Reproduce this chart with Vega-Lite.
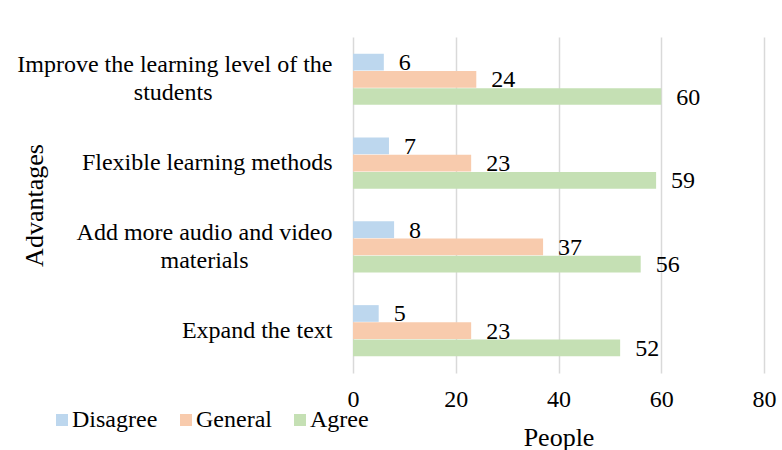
{
  "$schema": "https://vega.github.io/schema/vega-lite/v6.json",
  "autosize": "none",
  "width": 411,
  "height": 336,
  "padding": {"left": 353, "top": 37, "right": 18, "bottom": 77},
  "background": "white",
  "data": {
    "values": [
      {"advantage": "Improve the learning level of the students", "response": "Disagree", "people": 6},
      {"advantage": "Improve the learning level of the students", "response": "General", "people": 24},
      {"advantage": "Improve the learning level of the students", "response": "Agree", "people": 60},
      {"advantage": "Flexible learning methods", "response": "Disagree", "people": 7},
      {"advantage": "Flexible learning methods", "response": "General", "people": 23},
      {"advantage": "Flexible learning methods", "response": "Agree", "people": 59},
      {"advantage": "Add more audio and video materials", "response": "Disagree", "people": 8},
      {"advantage": "Add more audio and video materials", "response": "General", "people": 37},
      {"advantage": "Add more audio and video materials", "response": "Agree", "people": 56},
      {"advantage": "Expand the text", "response": "Disagree", "people": 5},
      {"advantage": "Expand the text", "response": "General", "people": 23},
      {"advantage": "Expand the text", "response": "Agree", "people": 52}
    ]
  },
  "encoding": {
    "y": {
      "field": "advantage",
      "type": "nominal",
      "sort": null,
      "scale": {"paddingInner": 0.39, "paddingOuter": 0.2},
      "axis": {
        "title": "Advantages",
        "titleFontSize": 26,
        "titleX": -311,
        "titleBaseline": "alphabetic",
        "labelFontSize": 24,
        "labelPadding": 21,
        "labelLimit": 500,
        "labelLineHeight": 28,
        "labelOffset": {"condition": {"test": "datum.value == 'Improve the learning level of the students' || datum.value == 'Add more audio and video materials'", "value": -14}, "value": 0},
        "labelExpr": "datum.label == 'Improve the learning level of the students' ? ['Improve the learning level of the', 'students\u00a0\u00a0\u00a0\u00a0\u00a0\u00a0\u00a0\u00a0\u00a0\u00a0\u00a0\u00a0\u00a0\u00a0\u00a0\u00a0\u00a0\u00a0\u00a0\u00a0\u200b'] : datum.label == 'Add more audio and video materials' ? ['Add more audio and video', 'materials\u00a0\u00a0\u00a0\u00a0\u00a0\u00a0\u00a0\u00a0\u00a0\u00a0\u00a0\u00a0\u00a0\u00a0\u200b'] : datum.label",
        "domain": false,
        "ticks": false,
        "grid": false
      }
    },
    "yOffset": {
      "field": "response",
      "type": "nominal",
      "sort": ["Disagree", "General", "Agree"],
      "scale": {"paddingInner": 0.03}
    }
  },
  "layer": [
    {
      "mark": {"type": "bar"},
      "encoding": {
        "x": {
          "field": "people",
          "type": "quantitative",
          "scale": {"domain": [0, 80]},
          "axis": {
            "title": "People",
            "titleFontSize": 26,
            "titlePadding": 13,
            "values": [0, 20, 40, 60, 80],
            "labelFontSize": 24,
            "labelPadding": 14,
            "labelFlush": false,
            "domain": false,
            "ticks": false,
            "grid": true,
            "gridColor": "#d9d9d9",
            "gridWidth": 1.5
          }
        },
        "color": {
          "field": "response",
          "type": "nominal",
          "sort": ["Disagree", "General", "Agree"],
          "scale": {"domain": ["Disagree", "General", "Agree"], "range": ["#BDD7EE", "#F8CBAD", "#C5E0B4"]},
          "legend": {
            "title": null,
            "orient": "none",
            "direction": "horizontal",
            "legendX": -303,
            "legendY": 371,
            "padding": 0,
            "symbolType": "square",
            "symbolSize": 144,
            "symbolStrokeWidth": 0,
            "symbolOpacity": 1,
            "labelFontSize": 24,
            "labelOffset": -2,
            "columnPadding": 16
          }
        }
      }
    },
    {
      "mark": {"type": "text", "align": "left", "baseline": "middle", "dx": 15, "dy": 1, "fontSize": 24, "color": "black"},
      "encoding": {
        "x": {"field": "people", "type": "quantitative"},
        "text": {"field": "people", "type": "quantitative"}
      }
    }
  ],
  "config": {
    "view": {"stroke": null},
    "font": "Liberation Serif",
    "text": {"font": "Liberation Serif"},
    "axis": {"labelFont": "Liberation Serif", "titleFont": "Liberation Serif", "labelColor": "black", "titleColor": "black", "titleFontWeight": "normal"},
    "legend": {"labelFont": "Liberation Serif", "labelColor": "black"}
  }
}
